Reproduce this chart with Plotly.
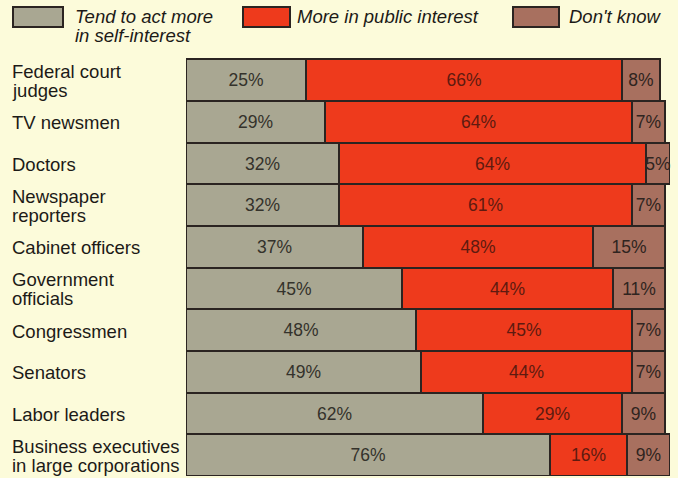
import plotly.graph_objects as go

# Survey: do these groups act more in self-interest or in the public interest?
categories = [
    "Federal court<br>judges",
    "TV newsmen",
    "Doctors",
    "Newspaper<br>reporters",
    "Cabinet officers",
    "Government<br>officials",
    "Congressmen",
    "Senators",
    "Labor leaders",
    "Business executives<br>in large corporations",
]
self_interest = [25, 29, 32, 32, 37, 45, 48, 49, 62, 76]
public_interest = [66, 64, 64, 61, 48, 44, 45, 44, 29, 16]
dont_know = [8, 7, 5, 7, 15, 11, 7, 7, 9, 9]

series_names = ["Tend to act more<br>in self-interest", "More in public interest", "Don't know"]

BG = "#FCFBDA"
OUTLINE = "#2B2421"
FILLS = ["#A9A792", "#EE3A1C", "#A8705F"]
TEXT_COLORS = ["#34322B", "#5E1A10", "#2F2420"]
FONT = "Liberation Sans, Arial, Helvetica, sans-serif"

W, H = 678, 478
L, R, T, B = 186, 8, 57, 2
PW, PH = W - L - R, H - T - B
X_MAX = 101  # a few rows round to 101%


def px_x(px):
    return (px - L) / PW


def px_y(py):
    return (H - B - py) / PH


fig = go.Figure()
for vals, name, fill, tcol in zip(
    [self_interest, public_interest, dont_know], series_names, FILLS, TEXT_COLORS
):
    fig.add_trace(go.Bar(
        y=categories,
        x=vals,
        orientation="h",
        name=name,
        marker=dict(color=fill, line=dict(color=OUTLINE, width=2)),
        text=[f"{v}%" for v in vals],
        textposition="inside",
        insidetextanchor="middle",
        textangle=0,
        constraintext="none",
        cliponaxis=False,
        textfont=dict(family=FONT, size=17.5, color=tcol),
        hoverinfo="skip",
        showlegend=False,
    ))

# Row labels on the left, each line placed separately for tight line spacing
annotations = []
for cat in categories:
    lines = cat.split("<br>")
    n = len(lines)
    for i, line in enumerate(lines):
        shift = (n - 1) / 2 * 19 - i * 19
        annotations.append(dict(
            x=px_x(10), xref="paper", xanchor="left",
            y=cat, yref="y", yanchor="middle", yshift=shift - 1,
            text=line, showarrow=False,
            font=dict(family=FONT, size=18.5, color="#1C1A17"),
        ))

# Custom legend across the top
shapes = []
legend_boxes = [(13, 63), (243, 290), (513, 559)]
legend_text_x = [73, 295, 567]
for (x0, x1), fill, name, tx in zip(legend_boxes, FILLS, series_names, legend_text_x):
    shapes.append(dict(
        type="rect", xref="paper", yref="paper",
        x0=px_x(x0), x1=px_x(x1), y0=px_y(27), y1=px_y(7),
        fillcolor=fill, line=dict(color=OUTLINE, width=2),
    ))
    for i, line in enumerate(name.split("<br>")):
        annotations.append(dict(
            x=px_x(tx), xref="paper", xanchor="left",
            y=px_y(16 + i * 20), yref="paper", yanchor="middle",
            text=line, showarrow=False,
            font=dict(family=FONT, size=18.5, color="#1C1A17", style="italic"),
        ))

fig.update_layout(
    width=W, height=H,
    margin=dict(l=L, r=R, t=T, b=B),
    paper_bgcolor=BG, plot_bgcolor=BG,
    barmode="stack", bargap=0,
    xaxis=dict(range=[0, X_MAX], visible=False, fixedrange=True),
    yaxis=dict(autorange="reversed", visible=False, fixedrange=True),
    shapes=shapes,
    annotations=annotations,
    showlegend=False,
)

fig.write_html("out.html")
